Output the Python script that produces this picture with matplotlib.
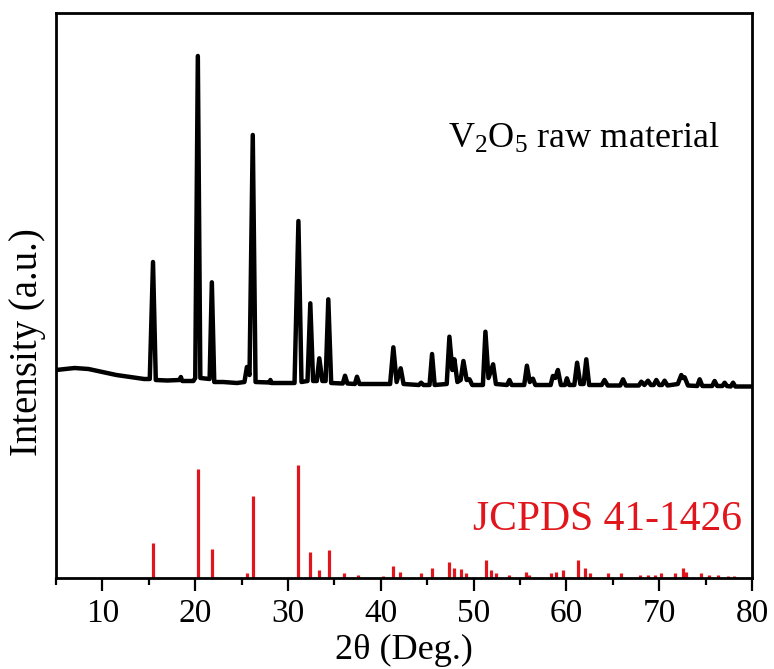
import numpy as np
import matplotlib.pyplot as plt
from matplotlib.ticker import MultipleLocator

plt.rcParams['font.family'] = ['Liberation Serif', 'DejaVu Serif']
plt.rcParams['mathtext.fontset'] = 'custom'
plt.rcParams['mathtext.rm'] = 'Liberation Serif'
plt.rcParams['mathtext.it'] = 'Liberation Serif:italic'

# measured pattern of the raw V2O5 powder (2theta in deg, intensity in a.u.)
two_theta = [
    5.0, 7.0, 8.5, 10.0, 11.5, 13.0, 14.5, 15.1, 15.45, 15.75,
    17.0, 18.3, 18.45, 18.6, 19.8, 20.0, 20.28, 20.55, 21.55, 21.79,
    22.05, 23.0, 24.5, 25.3, 25.57, 25.85, 26.2, 26.5, 28.0, 28.1,
    28.2, 30.7, 31.12, 31.45, 32.1, 32.4, 32.7, 33.1, 33.37, 33.7,
    34.05, 34.34, 34.65, 35.9, 36.14, 36.4, 37.2, 37.43, 37.7, 41.0,
    41.35, 41.7, 42.14, 42.45, 44.1, 44.34, 44.6, 45.25, 45.52, 45.8,
    47.1, 47.39, 47.7, 47.93, 48.25, 48.6, 48.9, 49.25, 49.55, 49.85,
    51.0, 51.27, 51.6, 52.1, 52.4, 53.6, 53.86, 54.1, 55.45, 55.74,
    56.05, 56.39, 56.65, 58.3, 58.54, 58.8, 59.08, 59.4, 59.85, 60.05,
    60.3, 60.85, 61.15, 61.5, 61.85, 62.14, 62.45, 63.8, 64.1, 64.45,
    65.8, 66.1, 66.4, 67.8, 68.07, 68.4, 68.79, 69.1, 69.4, 69.69,
    70.0, 70.3, 70.58, 70.9, 72.0, 72.38, 72.55, 72.74, 73.1, 74.1,
    74.36, 74.65, 75.7, 75.97, 76.25, 76.8, 77.05, 77.3, 77.7, 77.96,
    78.2, 80.0,
]
intensity = [
    208, 210, 209, 206, 203, 201, 199, 199, 316, 198,
    197.5, 198, 201, 197, 197, 200, 522, 200, 199, 295.7,
    196, 196, 195, 196, 211, 203, 443, 196, 195.5, 198,
    195, 195, 357, 196, 197, 274.7, 197, 197, 219.7, 197,
    197, 278.7, 195, 194.5, 202.3, 194.5, 194, 201.3, 194, 194,
    230.7, 196, 209.7, 194, 193, 195.3, 193, 193, 224, 193,
    194, 241.3, 208, 218.7, 196, 198, 217, 198, 198.7, 193,
    193, 246.3, 200, 213.7, 194, 193, 198, 193, 193, 212.3,
    196, 199.3, 193, 193, 202, 200, 208, 193, 193, 199.7,
    193, 193, 215.3, 194, 194, 218.7, 193, 193, 198, 192.5,
    192.5, 198.7, 192.5, 192.5, 196.3, 193, 197.3, 193, 193, 198,
    193, 193, 197.3, 192.5, 194, 203, 200, 200.7, 192.5, 192,
    198.7, 192, 192, 197, 192, 192, 195.3, 192, 191.5, 195.3,
    191.5, 191.5,
]

# JCPDS 41-1426 reference lines (relative intensity, %)
ref_pos = [
    15.46, 20.31, 21.82, 25.6, 26.21, 31.07, 32.4, 33.37, 34.38, 36.07,
    37.5, 40.27, 41.3, 42.1, 44.34, 45.5, 47.4, 47.9, 48.6, 49.2,
    51.3, 51.9, 52.4, 53.86, 55.66, 56.0, 58.36, 58.9, 59.6, 60.3,
    61.2, 61.95, 62.5, 64.48, 65.9, 67.88, 68.8, 69.5, 70.2, 71.66,
    72.57, 72.9, 74.5, 75.4, 76.3, 77.4, 78.1,
]
ref_int = [
    31, 96, 26, 4, 72, 100, 23, 7, 25, 4,
    3, 2, 11, 5, 4, 9, 14, 9, 8, 4,
    16, 7, 4, 3, 5, 3, 4, 5, 7, 1,
    16, 9, 4, 4, 4, 3, 3, 3, 4, 4,
    9, 5, 4, 3, 3, 2, 2,
]
ref_scale = 1.133
red = '#E0161C'

fig = plt.figure(figsize=(7.74, 6.69), dpi=100)
ax = fig.add_axes([0.0724, 0.136, 0.8992, 0.8446])

ax.plot(two_theta, intensity, color='black', lw=3.2, solid_joinstyle='round')
ax.vlines(ref_pos, 0, np.array(ref_int) * ref_scale, color=red, lw=2.3)

ax.text(47.25, 430, r'$\mathrm{V_2O_5}$ raw material', fontsize=26, ha='left', va='baseline')
ax.text(78.9, 48, 'JCPDS 41-1426', fontsize=30, color=red, ha='right', va='baseline')

ax.set_xlim(5, 80)
ax.set_ylim(0, 565)
ax.xaxis.set_major_locator(MultipleLocator(10))
ax.xaxis.set_minor_locator(MultipleLocator(5))
ax.set_yticks([])
ax.tick_params(axis='x', which='major', direction='out', length=9, width=1.6, labelsize=24, pad=6)
ax.tick_params(axis='x', which='minor', direction='out', length=5, width=1.6)
for sp in ax.spines.values():
    sp.set_linewidth(2.0)

ax.set_xlabel('2θ (Deg.)', fontsize=26, labelpad=3)
ax.set_ylabel('Intensity (a.u.)', fontsize=28)
ax.yaxis.set_label_coords(-0.014, 0.418)

fig.savefig('out.png', dpi=100)
